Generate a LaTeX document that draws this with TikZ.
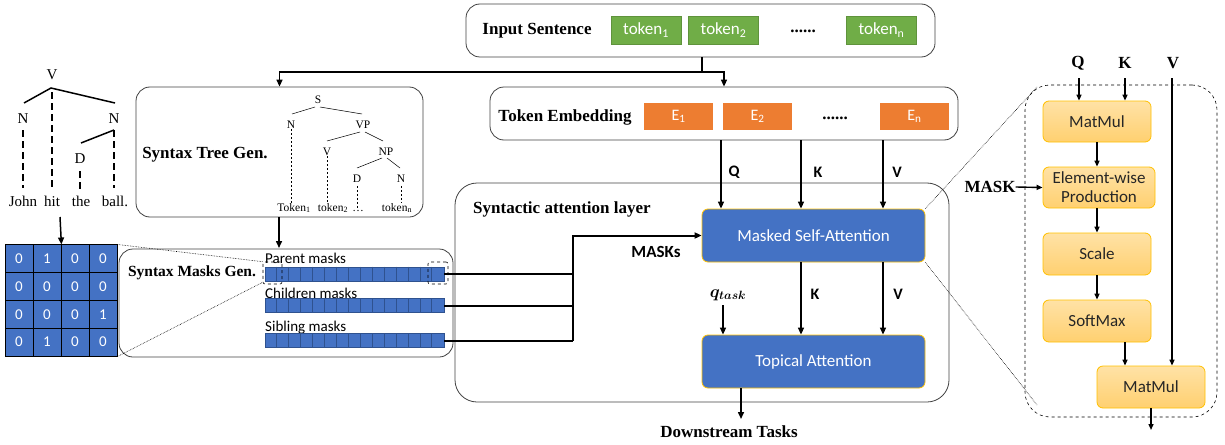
\documentclass[tikz,border=0pt]{standalone}
\usepackage{fontspec}
\usepackage{amsmath}
\setmainfont{Liberation Serif}
\newfontfamily\carl{Carlito}
\usetikzlibrary{arrows.meta}
\definecolor{mblue}{HTML}{4472C4}
\definecolor{dblue}{HTML}{2F528F}
\definecolor{tgreen}{HTML}{70AD47}
\definecolor{eorange}{HTML}{ED7D31}
\definecolor{ytop}{HTML}{FFE2A6}
\definecolor{ybot}{HTML}{FFD070}
\definecolor{ybord}{HTML}{FFC000}
\newcommand\fs[1]{\fontsize{#1}{#1}\selectfont}
\begin{document}
\begin{tikzpicture}[x=1pt,y=-1pt,
  panel/.style={draw=black!75, line width=0.8pt, rounded corners=14pt},
  tokbox/.style={fill=tgreen, draw=tgreen!85!black, line width=0.3pt, text=white, font=\carl\fs{17}, minimum width=70pt, minimum height=28pt, inner sep=0pt},
  embbox/.style={fill=eorange, text=white, font=\carl\fs{16}, minimum width=69pt, minimum height=27pt, inner sep=0pt},
  bluebox/.style={fill=mblue, draw=ybord, line width=0.8pt, rounded corners=6pt, text=white, font=\carl\fs{17}, minimum width=223pt, minimum height=53pt, inner sep=0pt},
  ybox/.style={top color=ytop, bottom color=ybot, draw=ybord, line width=0.8pt, rounded corners=6pt, text=black!85, font=\carl\fs{17}, minimum width=108pt, minimum height=41pt, inner sep=0pt, align=center},
  bl/.style={font=\bfseries\fs{17}, inner sep=0pt},
  sl/.style={font=\carl\bfseries\fs{16}, inner sep=0pt},
  tr/.style={font=\fs{11.5}, inner sep=0pt},
  lt/.style={font=\fs{15}, inner sep=0pt},
  cl/.style={font=\carl\fs{15}, inner sep=0pt, anchor=west},
  arr/.style={-{Triangle[length=7pt,width=6pt]}, line width=1.5pt},
  sarr/.style={-{Triangle[length=6pt,width=5pt]}, line width=1.4pt},
  tline/.style={line width=1.5pt},
  tdash/.style={line width=1.8pt, dash pattern=on 7pt off 4pt},
  thin tree/.style={line width=0.5pt},
  thin dash/.style={line width=0.5pt, dash pattern=on 2pt off 2pt},
  zoomline/.style={line width=0.6pt, densely dotted},
  bar/.style={fill=mblue, draw=dblue, line width=0.6pt, minimum width=179pt, minimum height=14pt, inner sep=0pt},
  cell/.style={fill=mblue, draw=black, line width=0.8pt, minimum size=28pt, inner sep=0pt, text=white, font=\carl\fs{15}},
]
\useasboundingbox (0,0) rectangle (1225,444);

% ---------------- Input sentence ----------------
\node[panel, minimum width=469pt, minimum height=53pt] (inp) at (700.5,30.5) {};
\node[bl] (inplab) at (537,31) {Input Sentence};
\node[tokbox] (t1) at (646,30) {token\textsubscript{1}};
\node[tokbox] (t2) at (723.5,30) {token\textsubscript{2}};
\node[bl] (tdots) at (803,31) {......};
\node[tokbox] (tn) at (881.5,30) {token\textsubscript{n}};

% ---------------- Token embedding ----------------
\node[panel, minimum width=468pt, minimum height=53pt] (emb) at (724,113.5) {};
\node[bl] (emblab) at (565,117) {Token Embedding};
\node[embbox] (e1) at (678.5,116.5) {E\textsubscript{1}};
\node[embbox] (e2) at (757.5,116.5) {E\textsubscript{2}};
\node[bl] (edots) at (835,118) {......};
\node[embbox] (en) at (914.5,116.5) {E\textsubscript{n}};

% split connector
\coordinate (split) at (702,72);
\draw[tline] (inp.south -| split) -- (split);
\draw[arr] (split) -| (emb.north);

% ---------------- Syntax tree gen ----------------
\node[panel, minimum width=287pt, minimum height=130pt] (tree) at (279.5,152) {};
\draw[arr] (split) -| (tree.north);
\node[bl] (treelab) at (205,155) {Syntax Tree Gen.};
\node[tr] (tS) at (318,100) {S};
\node[tr] (tN1) at (291,125) {N};
\node[tr] (tVP) at (363,125) {VP};
\node[tr] (tV) at (327,152) {V};
\node[tr] (tNP) at (386,152) {NP};
\node[tr] (tD) at (357,179) {D};
\node[tr] (tN2) at (401,179) {N};
\node[tr, anchor=base] (k1) at (294,211) {Token\textsubscript{1}};
\node[tr, anchor=base] (k2) at (333,211) {token\textsubscript{2}};
\node[tr, anchor=base] (k3) at (358,211) {\dots};
\node[tr, anchor=base] (kn) at (397,211) {token\textsubscript{n}};
\draw[thin tree] (315,107) -- (292,114);
\draw[thin tree] (320,107) -- (362,114);
\draw[thin tree] (360,132) -- (327,141);
\draw[thin tree] (365,132) -- (383,141);
\draw[thin tree] (382,158) -- (357,168);
\draw[thin tree] (387,158) -- (400,168);
\draw[thin dash] (tN1.south) -- (tN1.south |- k1.north);
\draw[thin dash] (tV.south) -- (tV.south |- k2.north);
\draw[thin dash] ([yshift=-3pt]tD.south) -- (tD.south |- k3.north);
\draw[thin dash] ([yshift=-3pt]tN2.south) -- ([xshift=0pt]tN2.south |- kn.north);

% ---------------- Syntax masks gen ----------------
\node[panel, minimum width=334pt, minimum height=108pt] (masks) at (286,303) {};
\draw[arr] (tree.south -| 279,0) -- (279,248);
\node[bl, font=\bfseries\fs{15.5}] (masklab) at (192,273) {Syntax Masks Gen.};
\node[cl] (plab) at (265,258) {Parent masks};
\node[bar] (pbar) at (354.5,274) {};
\node[cl] (clab) at (265,293) {Children masks};
\node[bar] (cbar) at (354.5,305.5) {};
\node[cl] (slab) at (265,328) {Sibling masks};
\node[bar] (sbar) at (354.5,340.5) {};
\foreach \b in {pbar,cbar,sbar}{
  \foreach \i in {1,...,14}{
    \draw[dblue, line width=0.6pt] ([xshift=\i*11.933pt]\b.north west) -- ([xshift=\i*11.933pt]\b.south west);
  }
}
\node[draw, dashed, line width=0.6pt, rounded corners=2pt, minimum width=19pt, minimum height=22pt, inner sep=0pt] (lbox) at (272.5,273) {};
\node[draw, dashed, line width=0.6pt, rounded corners=2pt, minimum width=20pt, minimum height=22pt, inner sep=0pt] (rbox) at (438,273) {};

% ---------------- Left tree ----------------
\node[lt] (lV) at (52,75) {V};
\node[lt] (lN1) at (23,119) {N};
\node[lt] (lN2) at (114,119) {N};
\node[lt] (lD) at (80,159) {D};
\node[lt, anchor=base] (wJ) at (23,206) {John};
\node[lt, anchor=base] (wH) at (52,206) {hit};
\node[lt, anchor=base] (wT) at (81,206) {the};
\node[lt, anchor=base] (wB) at (115,206) {ball.};
\draw[tline] (24,103) -- (51,88) -- (115,103);
\draw[tline] (114,130) -- (81,143);
\draw[tdash] (52,92) -- (52,187);
\draw[tdash] (23,130) -- (23,188);
\draw[tdash] (114,130) -- (114,188);
\draw[tdash] (80,171) -- (80,190);

% matrix
\foreach \r/\row in {1/{0,1,0,0},2/{0,0,0,0},3/{0,0,0,1},4/{0,1,0,0}}{
  \foreach \v [count=\c] in \row {
    \node[cell] (m-\r-\c) at ({5+28*(\c-0.5)},{245+27.75*(\r-0.5)}) {\v};
  }
}
\draw[arr] (60,217) -- (m-1-2.north east);
\draw[zoomline] (m-1-4.north east) -- (lbox.north west);
\draw[zoomline] (m-4-4.south east) -- ([yshift=2pt]lbox.south west);

% ---------------- Syntactic attention layer ----------------
\node[panel, rounded corners=22pt, minimum width=494pt, minimum height=219pt] (layer) at (702,292.5) {};
\node[bl, anchor=west] (layerlab) at (473,209) {Syntactic attention layer};
\node[bluebox] (msa) at (813.5,235.5) {Masked Self-Attention};
\node[bluebox] (ta) at (813.5,361.5) {Topical Attention};

\coordinate (xq) at (721,0);
\coordinate (xk) at (801,0);
\coordinate (xv) at (883,0);
\draw[arr] (emb.south -| xq) -- (msa.north -| xq);
\draw[arr] (emb.south -| xk) -- (msa.north -| xk);
\draw[arr] (emb.south -| xv) -- (msa.north -| xv);
\node[sl] (lq) at (734,172) {Q};
\node[sl] (lk) at (818,172) {K};
\node[sl] (lv) at (897,172) {V};

\draw[arr] (msa.south -| xk) -- (ta.north -| xk);
\draw[arr] (msa.south -| xv) -- (ta.north -| xv);
\node[sl] (lk2) at (815,294) {K};
\node[sl] (lv2) at (898,294) {V};
\node[inner sep=0pt, font=\fs{16.5}] (qt) at (728,295) {$\boldsymbol{q_{task}}$};
\draw[arr] (723,305) -- (ta.north -| 723,0);

% masks connectors
\coordinate (jn) at (573,0);
\draw[line width=2pt] (pbar.east) -- (pbar.east -| jn);
\draw[line width=2pt] (cbar.east) -- (cbar.east -| jn);
\draw[line width=2pt] (sbar.east) -- (sbar.east -| jn);
\draw[arr, line width=2pt] (sbar.east -| jn) |- (msa.west);
\node[sl, font=\carl\bfseries\fs{17}] (masksl) at (656,252) {MASKs};

% downstream
\node[bl] (ds) at (729,432) {Downstream Tasks};
\draw[arr] (ta.south -| 741,0) -- (741,419);

% ---------------- Right panel ----------------
\node[draw, dashed, line width=0.6pt, rounded corners=25pt, minimum width=192pt, minimum height=332pt, inner sep=0pt] (att) at (1121,251) {};
\node[bl] (rq) at (1078,63) {Q};
\node[bl] (rk) at (1125,63) {K};
\node[bl] (rv) at (1173,63) {V};
\node[ybox] (mm1) at (1097,121.5) {MatMul};
\node[ybox, minimum width=112pt] (ewp) at (1099,187.5) {Element-wise\\[2pt]Production};
\node[ybox, minimum height=42pt] (sc) at (1097,254) {Scale};
\node[ybox, minimum height=42pt] (sm) at (1097,321) {SoftMax};
\node[ybox, minimum height=42pt] (mm2) at (1151,387) {MatMul};
\node[bl] (maskr) at (990,187) {MASK};

\draw[sarr] (1079,78) -- (mm1.north -| 1079,0);
\draw[sarr] (1125,78) -- (mm1.north -| 1125,0);
\draw[sarr] (1172,78) -- (mm2.north -| 1172,0);
\draw[sarr] (mm1.south) -- (ewp.north -| mm1.south);
\draw[sarr] (ewp.south -| sc.north) -- (sc.north);
\draw[sarr] (sc.south) -- (sm.north);
\draw[sarr] (sm.south -| 1125,0) -- (mm2.north -| 1125,0);
\draw[sarr] (maskr.east) -- (ewp.west);
\draw[sarr] (mm2.south) -- (1151,430);

\draw[zoomline] (msa.north east) -- (1037,87);
\draw[zoomline] (msa.south east) -- (1037,405);
\end{tikzpicture}
\end{document}
